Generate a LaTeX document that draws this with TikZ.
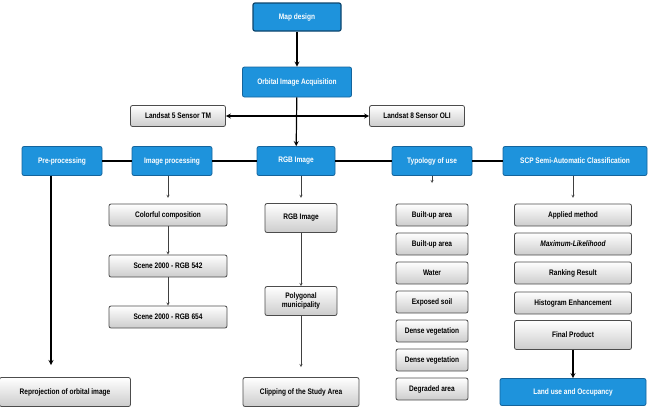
\documentclass[tikz,border=0pt]{standalone}
\usepackage{fontspec}
\setmainfont{Liberation Sans}[FakeStretch=0.82]
\definecolor{boxblue}{HTML}{1E93DC}
\definecolor{edgeblue}{HTML}{14649C}
\tikzset{
    blue box/.style={draw=edgeblue,thick,fill=boxblue,text=white,rounded corners=2pt,
        font=\bfseries\fontsize{8}{9}\selectfont,align=center,inner sep=1pt},
    gray box/.style={draw=gray!60!black,thick,top color=white,bottom color=gray!40,
        rounded corners=2pt,font=\bfseries\fontsize{8}{9}\selectfont,align=center,inner sep=1pt},
    thin arrow/.style={->,>=stealth,black!75},
    thick arrow/.style={->,>=stealth,very thick,black}
}
\begin{document}
\begin{tikzpicture}[x=1pt,y=-1pt]
    \useasboundingbox (0,0) rectangle (650,408);
    % top
    \node [blue box,minimum width=88,minimum height=28,draw=edgeblue!70!black,very thick] (map) at (297,17) {Map design};
    \node [blue box,minimum width=109,minimum height=30] (orbital) at (297,82) {Orbital Image Acquisition};
    \node [gray box,minimum width=95,minimum height=21] (ls5) at (178,116) {Landsat 5 Sensor TM};
    \node [gray box,minimum width=95,minimum height=21] (ls8) at (417,116) {Landsat 8 Sensor OLI};
    % main row
    \node [blue box,minimum width=80,minimum height=29] (pre) at (62,161) {Pre-processing};
    \node [blue box,minimum width=80,minimum height=29] (proc) at (172,161) {Image processing};
    \node [blue box,minimum width=78,minimum height=29] (rgb) at (296,161) {RGB Image};
    \node [blue box,minimum width=80,minimum height=29] (typ) at (432,161) {Typology of use};
    \node [blue box,minimum width=144,minimum height=29] (scp) at (575,161) {SCP Semi-Automatic Classification};
    \draw [very thick] (pre) -- (proc) -- (rgb) -- (typ) -- (scp);
    \draw [thick arrow] (map) -- (orbital);
    \draw [thick arrow] (orbital) -- (rgb);
    \draw [thick arrow,<->] (ls5) -- (ls8);
    % pre-processing
    \node [gray box,minimum width=131,minimum height=29] (reproj) at (65,392) {Reprojection of orbital image};
    \draw [thick arrow] (pre.south -| 51,0) -- (51,365);
    % image processing
    \node [gray box,minimum width=118,minimum height=22] (comp) at (168,215) {Colorful composition};
    \node [gray box,minimum width=118,minimum height=22] (s542) at (168,266) {Scene 2000 - RGB 542};
    \node [gray box,minimum width=118,minimum height=22] (s654) at (168,317) {Scene 2000 - RGB 654};
    \draw [thin arrow] (proc.south -| comp) -- ++(0,22);
    \draw [thin arrow] (comp) -- (s542);
    \draw [thin arrow] (s542) -- (s654);
    % rgb image
    \node [gray box,minimum width=72,minimum height=29] (rgbsub) at (301,218) {RGB Image};
    \node [gray box,minimum width=72,minimum height=29] (poly) at (301,301) {Polygonal\\municipality};
    \node [gray box,minimum width=116,minimum height=29] (clip) at (301,392) {Clipping of the Study Area};
    \draw [thin arrow] (rgb.south -| rgbsub) -- ++(0,22);
    \draw [thin arrow] (rgbsub) -- (poly.north);
    \draw [thin arrow,shorten >=10pt] (poly) -- (clip);
    % typology of use
    \foreach \name [count=\i] in {Built-up area,Built-up area,Water,Exposed soil,Dense vegetation,Dense vegetation,Degraded area} {
        \node [gray box,minimum width=72,minimum height=22] (typ\i) at (432,186+29*\i) {\name};
    }
    \draw [thin arrow] (typ) -- ++(0,22);
    % classification
    \node [gray box,minimum width=117,minimum height=22] (method) at (573,215) {Applied method};
    \node [gray box,minimum width=117,minimum height=22] (ml) at (573,244) {\itshape Maximum-Likelihood};
    \node [gray box,minimum width=117,minimum height=22] (rank) at (573,273) {Ranking Result};
    \node [gray box,minimum width=117,minimum height=22] (hist) at (573,303) {Histogram Enhancement};
    \node [gray box,minimum width=117,minimum height=29] (final) at (573,335) {Final Product};
    \node [blue box,minimum width=146,minimum height=27] (land) at (573,392) {Land use and Occupancy};
    \draw [thin arrow] (scp.south -| method) -- ++(0,22);
    \draw [thick arrow] (final) -- (land);
\end{tikzpicture}
\end{document}
